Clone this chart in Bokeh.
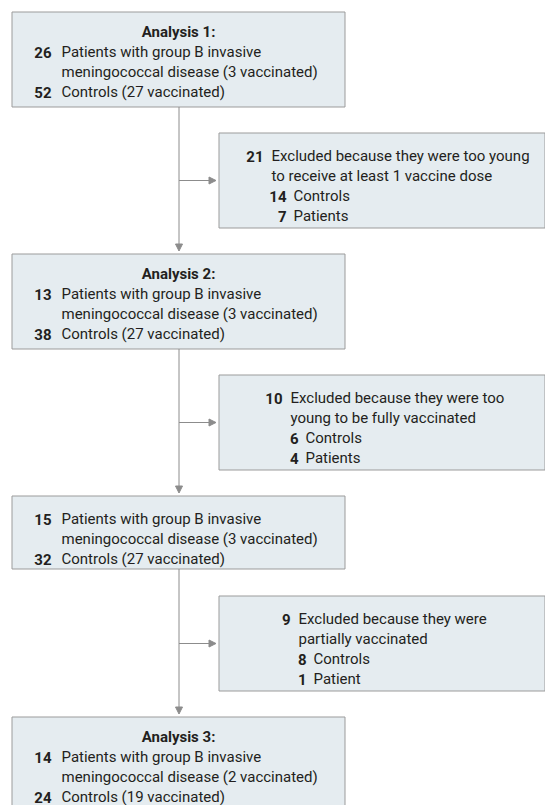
from bokeh.plotting import figure
from bokeh.models import Range1d, Arrow, NormalHead, ColumnDataSource
from bokeh.core.properties import value
from bokeh.embed import file_html
from bokeh.resources import INLINE

# ---------------- data ----------------
stage_titles = ["Analysis 1:", "Analysis 2:", "", "Analysis 3:"]
patients = [26, 13, 15, 14]
patients_vaccinated = [3, 3, 3, 2]
controls = [52, 38, 32, 24]
controls_vaccinated = [27, 27, 27, 19]

excluded = [21, 10, 9]
excluded_reason = [
    ["Excluded because they were too young", "to receive at least 1 vaccine dose"],
    ["Excluded because they were too", "young to be fully vaccinated"],
    ["Excluded because they were", "partially vaccinated"],
]
excluded_controls = [14, 6, 8]
excluded_patients = [7, 4, 1]
excluded_patient_label = ["Patients", "Patients", "Patient"]

# ---------------- layout (reference pixel space) ----------------
W, H = 545, 805
FONT = value("Roboto")
FS = "15px"
TXT = "#231f20"
BOX_FILL = "#e5ecf0"
BOX_LINE = "#9b9b9b"
ARROW = "#8c8c8c"

main_left, main_right = 11.5, 344.5
main_top = [11.5, 253.5, 495.5, 716.5]
main_bottom = [106.5, 348.5, 568.5, 830]
trunk_x = 178.5
excl_left, excl_right = 218.5, 544.5
excl_top = [132.5, 374.5, 595.5]
excl_bottom = [227.5, 469.5, 690.5]
excl_text_x = [271, 290, 298]

p = figure(width=W, height=H, x_range=Range1d(0, W), y_range=Range1d(H, 0),
           output_backend="svg", toolbar_location=None, min_border=0,
           outline_line_color=None, background_fill_color="white")
p.axis.visible = False
p.grid.visible = False

# boxes
p.quad(left=[main_left] * 4, right=[main_right] * 4, top=main_top, bottom=main_bottom,
       fill_color=BOX_FILL, line_color=BOX_LINE, line_width=1)
p.quad(left=[excl_left] * 3, right=[excl_right] * 3, top=excl_top, bottom=excl_bottom,
       fill_color=BOX_FILL, line_color=BOX_LINE, line_width=1)

# connectors
for i in range(3):
    p.add_layout(Arrow(end=NormalHead(size=7, fill_color=ARROW, line_color=ARROW, line_width=1),
                       x_start=trunk_x, y_start=main_bottom[i], x_end=trunk_x, y_end=main_top[i + 1] - 3,
                       line_color=ARROW, line_width=1))
    ay = (excl_top[i] + excl_bottom[i]) / 2
    p.add_layout(Arrow(end=NormalHead(size=7, fill_color=ARROW, line_color=ARROW, line_width=1),
                       x_start=trunk_x, y_start=ay, x_end=excl_left - 3, y_end=ay,
                       line_color=ARROW, line_width=1))

bold = dict(x=[], y=[], text=[], align=[])
normal = dict(x=[], y=[], text=[], align=[])

def put(d, x, y, t, a):
    d["x"].append(x); d["y"].append(y); d["text"].append(t); d["align"].append(a)

num_right, label_x = 51, 61
for i in range(4):
    top = main_top[i]
    if stage_titles[i]:
        offs = [20, 40, 60, 80]
    else:
        offs = [None, 23, 43, 63]
    if stage_titles[i]:
        put(bold, (main_left + main_right) / 2, top + offs[0], stage_titles[i], "center")
    put(bold, num_right, top + offs[1], str(patients[i]), "right")
    put(normal, label_x, top + offs[1], "Patients with group B invasive", "left")
    put(normal, label_x, top + offs[2],
        "meningococcal disease (%d vaccinated)" % patients_vaccinated[i], "left")
    put(bold, num_right, top + offs[3], str(controls[i]), "right")
    put(normal, label_x, top + offs[3], "Controls (%d vaccinated)" % controls_vaccinated[i], "left")

for i in range(3):
    top = excl_top[i]
    tx = excl_text_x[i]
    sub_w = 15 if max(excluded_controls[i], excluded_patients[i]) >= 10 else 8
    put(bold, tx - 8, top + 23, str(excluded[i]), "right")
    put(normal, tx, top + 23, excluded_reason[i][0], "left")
    put(normal, tx, top + 43, excluded_reason[i][1], "left")
    put(bold, tx + sub_w, top + 63, str(excluded_controls[i]), "right")
    put(normal, tx + sub_w + 7, top + 63, "Controls", "left")
    put(bold, tx + sub_w, top + 83, str(excluded_patients[i]), "right")
    put(normal, tx + sub_w + 7, top + 83, excluded_patient_label[i], "left")

p.text(x="x", y="y", text="text", text_align="align", source=ColumnDataSource(bold),
       text_font=FONT, text_font_size=FS, text_font_style="bold", text_color=TXT,
       text_baseline="alphabetic")
p.text(x="x", y="y", text="text", text_align="align", source=ColumnDataSource(normal),
       text_font=FONT, text_font_size=FS, text_color=TXT, text_baseline="alphabetic")

open("out.html", "w").write(file_html(p, INLINE))
